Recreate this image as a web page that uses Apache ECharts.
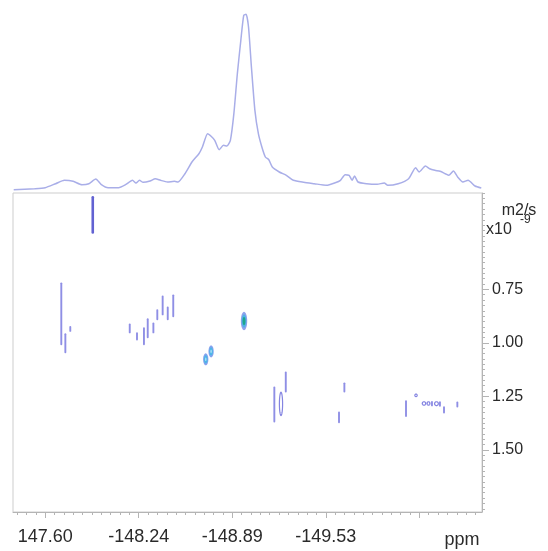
<!DOCTYPE html>
<html><head><meta charset="utf-8">
<script src="https://cdn.jsdelivr.net/npm/echarts@6/dist/echarts.min.js"></script>
<style>html,body{margin:0;padding:0;background:#fff}#c{width:548px;height:551px}</style>
</head><body><div id="c"></div>
<script>
// ---- axis ranges & ticks ----
const ppmMin = -150.607, ppmMax = -147.373;
const dMin = 0.3, dMax = 1.79;
const xTickValues = [-147.595, -148.24, -148.885, -149.53, -150.175];
const xTickLabels = ['147.60', '-148.24', '-148.89', '-149.53', ''];
const xMinorStep = 0.0645;
const yTickValues = [0.75, 1.00, 1.25, 1.50];
const yTickLabels = ['0.75', '1.00', '1.25', '1.50'];
const yMinorStep = 0.025;

// ---- 1D projection (ppm, intensity) ----
const spectrumPpm = [-147.378,-147.522,-147.595,-147.667,-147.727,-147.788,-147.848,-147.896,-147.944,-147.980,-148.029,-148.101,-148.149,-148.197,-148.221,-148.245,-148.270,-148.318,-148.354,-148.390,-148.438,-148.486,-148.511,-148.559,-148.607,-148.655,-148.679,-148.715,-148.739,-148.764,-148.795,-148.824,-148.848,-148.872,-148.896,-148.920,-148.944,-148.964,-148.980,-148.997,-149.017,-149.041,-149.065,-149.089,-149.113,-149.137,-149.161,-149.209,-149.258,-149.306,-149.378,-149.450,-149.535,-149.595,-149.631,-149.663,-149.691,-149.711,-149.728,-149.752,-149.812,-149.884,-149.933,-149.957,-150.029,-150.101,-150.149,-150.173,-150.217,-150.246,-150.282,-150.318,-150.354,-150.378,-150.410,-150.439,-150.475,-150.511,-150.559,-150.602];
const spectrumInt = [3.3,4.3,5.3,9.3,12.7,11.7,8.3,9.3,14.0,8.7,5.3,5.3,8.3,12.7,10.0,12.7,10.7,12.0,14.3,12.7,11.0,11.7,11.0,19.3,31.0,39.3,46.0,59.3,56.7,52.7,43.3,47.7,47.0,52.7,79.3,119.3,152.7,177.7,178.7,166.0,126.0,82.7,59.3,46.0,36.0,33.3,26.0,21.0,17.7,12.7,10.7,9.3,7.7,10.3,12.7,18.3,17.7,12.7,17.0,11.0,9.3,8.7,10.0,7.7,9.3,14.3,25.3,21.0,27.0,24.3,22.7,21.7,19.3,17.7,22.0,16.0,11.0,12.7,7.0,5.0];

// ---- 2D DOSY contours ----
// vertical streaks: [ppm, D start, D end]
const strongStreaks = [[-147.923, 0.320, 0.484]];
const streaks = [
  [-147.706, 0.722, 1.007], [-147.734, 0.960, 1.044], [-147.768, 0.926, 0.944],
  [-148.178, 0.914, 0.951], [-148.228, 0.955, 0.984], [-148.276, 0.932, 1.007],
  [-148.302, 0.890, 0.974], [-148.341, 0.909, 0.951], [-148.368, 0.847, 0.890],
  [-148.405, 0.783, 0.867], [-148.440, 0.835, 0.890], [-148.478, 0.778, 0.876],
  [-149.175, 1.208, 1.367], [-149.254, 1.138, 1.227], [-149.658, 1.189, 1.227],
  [-149.621, 1.325, 1.371], [-150.083, 1.272, 1.342], [-150.262, 1.276, 1.292],
  [-150.317, 1.277, 1.294], [-150.345, 1.301, 1.325], [-150.437, 1.278, 1.297]
];
// filled contour peaks: [ppm, D, half-width ppm, half-height D]
const mainPeak = [[-148.966, 0.898, 0.022, 0.043]];
const pairPeaks = [[-148.702, 1.077, 0.018, 0.028], [-148.739, 1.040, 0.018, 0.028]];
// outline-only small contours
const ovalPeaks = [
  [-149.221, 1.285, 0.011, 0.054], [-150.152, 1.245, 0.008, 0.006],
  [-150.207, 1.283, 0.012, 0.008], [-150.238, 1.283, 0.010, 0.008],
  [-150.293, 1.284, 0.013, 0.009]
];

function range(from, to, step){ const a=[]; const n=Math.round((to-from)/step); for(let i=0;i<=n;i++) a.push(+(from+i*step).toFixed(5)); return a; }
const xMinor = range(xTickValues[0] + 3*xMinorStep, xTickValues[0] - 49*xMinorStep, -xMinorStep).filter(v => v >= ppmMin && v <= ppmMax);
const yMinor = range(dMin, dMax, yMinorStep).filter(v => v <= dMax);

const font = '"Liberation Sans", Arial, Helvetica, sans-serif';
const axisGray = '#b4b4b4';

function streakRender(color, width){
  return function(params, api){
    const a = api.coord([api.value(0), api.value(1)]);
    const b = api.coord([api.value(0), api.value(2)]);
    return {type:'line', shape:{x1:a[0], y1:a[1], x2:b[0], y2:b[1]}, style:{stroke:color, lineWidth:width, lineCap:'round'}};
  };
}
function ellipsePoints(cx, cy, rx, ry){
  const pts = [];
  for (let k = 0; k < 36; k++) { const t = k / 36 * Math.PI * 2; pts.push([cx + rx*Math.cos(t), cy + ry*Math.sin(t)]); }
  return pts;
}
function ringRender(levels){
  return function(params, api){
    const c = api.coord([api.value(0), api.value(1)]);
    const e = api.coord([api.value(0) + api.value(2), api.value(1) + api.value(3)]);
    const rx = Math.abs(e[0]-c[0]), ry = Math.abs(e[1]-c[1]);
    return {type:'group', children: levels.map(l => ({
      type:'polygon', shape:{points: ellipsePoints(c[0], c[1], rx*l.s, ry*l.s)},
      style: l.style
    }))};
  };
}

const chart = echarts.init(document.getElementById('c'), null, {renderer:'canvas'});
chart.setOption({
  animation:false,
  backgroundColor:'#ffffff',
  grid:[
    {left:13, right:66, top:0, height:193},
    {left:13, right:66, top:193, bottom:39, show:true, borderColor:'#cdcdcd', borderWidth:1}
  ],
  xAxis:[
    {gridIndex:0, type:'value', min:ppmMin, max:ppmMax, inverse:true, show:false},
    {gridIndex:1, type:'value', min:ppmMin, max:ppmMax, inverse:true, position:'bottom',
     splitLine:{show:false},
     axisLine:{show:true, lineStyle:{color:axisGray, width:1}},
     axisTick:{show:true, customValues:xTickValues, length:6, lineStyle:{color:axisGray}},
     axisLabel:{show:true, customValues:xTickValues.slice(0,4), margin:16, color:'#2a2a2a', fontSize:18, fontFamily:font,
       formatter:function(v){ const i = xTickValues.findIndex(t => Math.abs(t-v) < 1e-6); return i>=0 ? xTickLabels[i] : ''; }}},
    {gridIndex:1, type:'value', min:ppmMin, max:ppmMax, inverse:true, position:'bottom',
     splitLine:{show:false}, axisLine:{show:false}, axisLabel:{show:false},
     axisTick:{show:true, customValues:xMinor, length:3, lineStyle:{color:axisGray}}}
  ],
  yAxis:[
    {gridIndex:0, type:'value', min:0, max:193, show:false},
    {gridIndex:1, type:'value', min:dMin, max:dMax, inverse:true, position:'right',
     splitLine:{show:false},
     axisLine:{show:true, lineStyle:{color:axisGray, width:1}},
     axisTick:{show:true, customValues:yTickValues, length:7, lineStyle:{color:axisGray}},
     axisLabel:{show:true, customValues:yTickValues, margin:10, color:'#2a2a2a', fontSize:16, fontFamily:font,
       formatter:function(v){ const i = yTickValues.findIndex(t => Math.abs(t-v) < 1e-6); return i>=0 ? yTickLabels[i] : ''; }}},
    {gridIndex:1, type:'value', min:dMin, max:dMax, inverse:true, position:'right',
     splitLine:{show:false}, axisLine:{show:false}, axisLabel:{show:false},
     axisTick:{show:true, customValues:yMinor, length:3, lineStyle:{color:axisGray}}}
  ],
  series:[
    {type:'line', xAxisIndex:0, yAxisIndex:0, showSymbol:false, smooth:0.2,
     data: spectrumPpm.map((p,i) => [p, spectrumInt[i]]),
     lineStyle:{color:'#a9aee8', width:1.5}},
    {type:'custom', coordinateSystem:'cartesian2d', xAxisIndex:1, yAxisIndex:1, clip:true,
     renderItem: streakRender('rgba(115,115,222,0.8)', 1.9), data: streaks},
    {type:'custom', coordinateSystem:'cartesian2d', xAxisIndex:1, yAxisIndex:1, clip:true,
     renderItem: streakRender('#6262d2', 2.6), data: strongStreaks},
    {type:'custom', coordinateSystem:'cartesian2d', xAxisIndex:1, yAxisIndex:1, clip:true,
     renderItem: ringRender([
       {s:1, style:{fill:'none', stroke:'rgba(110,110,220,0.85)', lineWidth:1.2}}
     ]), data: ovalPeaks},
    {type:'custom', coordinateSystem:'cartesian2d', xAxisIndex:1, yAxisIndex:1, clip:true,
     renderItem: ringRender([
       {s:1, style:{fill:'#8fa2ec'}},
       {s:0.72, style:{fill:'#4fb2e6'}},
       {s:0.45, style:{fill:'#1ea58c'}}
     ]), data: mainPeak},
    {type:'custom', coordinateSystem:'cartesian2d', xAxisIndex:1, yAxisIndex:1, clip:true,
     renderItem: ringRender([
       {s:1, style:{fill:'#86a2ee'}},
       {s:0.68, style:{fill:'#4cb6e8'}},
       {s:0.3, style:{fill:'#a6dcf3'}}
     ]), data: pairPeaks}
  ],
  graphic:[
    {type:'text', x:462, y:540, style:{text:'ppm', fill:'#2a2a2a', font:'18px ' + font, align:'center', verticalAlign:'middle'}},
    {type:'text', x:519, y:211, style:{text:'m2/s', fill:'#2a2a2a', font:'16px ' + font, align:'center', verticalAlign:'middle'}},
    {type:'text', x:486, y:230, style:{text:'x10', fill:'#2a2a2a', font:'16px ' + font, align:'left', verticalAlign:'middle'}},
    {type:'text', x:520, y:220, style:{text:'-9', fill:'#2a2a2a', font:'12px ' + font, align:'left', verticalAlign:'middle'}}
  ]
});
</script></body></html>
